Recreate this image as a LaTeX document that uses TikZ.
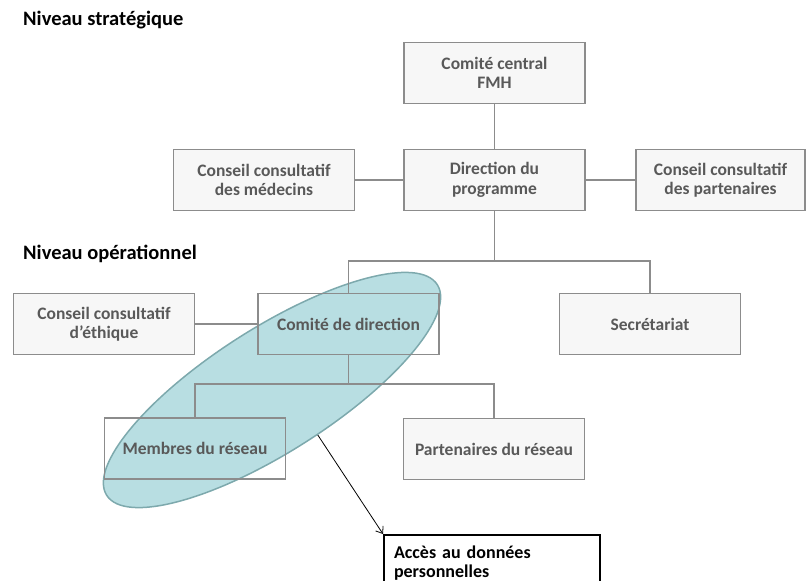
\documentclass[tikz,border=0pt]{standalone}
\usepackage{fontspec}
\setmainfont{Carlito}
\usetikzlibrary{shapes.geometric,arrows.meta}
\definecolor{boxgray}{HTML}{8C8C8C}
\definecolor{boxfill}{HTML}{F7F7F7}
\definecolor{txtgray}{HTML}{595959}
\definecolor{zonefill}{HTML}{B8DEE2}
\definecolor{zoneline}{HTML}{7DA9AD}
\tikzstyle{orgbox}=[draw=boxgray,fill=boxfill,line width=1.3pt,minimum width=181pt,minimum height=61pt,align=center,text=txtgray,font=\bfseries\fontsize{17.5}{19.5}\selectfont]
\tikzstyle{openbox}=[orgbox,fill=none]
\tikzstyle{link}=[draw=boxgray,line width=1.3pt]
\tikzstyle{level}=[anchor=base west,inner sep=0pt,font=\bfseries\fontsize{20.5}{24}\selectfont]

\begin{document}
\begin{tikzpicture}[x=1pt,y=-1pt]
	\useasboundingbox (0,0) rectangle (806,581);
	%zone of the network
	\node[ellipse,draw=zoneline,fill=zonefill,line width=1.5pt,minimum width=392pt,minimum height=124pt,inner sep=0pt,rotate=32.5] (zone) at (272,390) {};
	\node[level] (strat) at (23,25) {Niveau stratégique};
	\node[level] (oper) at (23,259) {Niveau opérationnel};
	%strategic level
	\node[orgbox] (cc) at (494.5,73) {Comité central\\FMH};
	\node[orgbox] (dp) at (494.5,180) {Direction du\\programme};
	\node[orgbox] (med) at (264,180) {Conseil consultatif\\des médecins};
	\node[orgbox,minimum width=169pt] (part) at (720.5,180) {Conseil consultatif\\des partenaires};
	%operational level
	\node[orgbox] (eth) at (104,324) {Conseil consultatif\\d’éthique};
	\node[openbox] (cd) at (348.5,324) {Comité de direction};
	\node[orgbox] (sec) at (650,324) {Secrétariat};
	\node[openbox] (mem) at (195,448.5) {Membres du réseau};
	\node[orgbox] (pres) at (494,449) {Partenaires du réseau};
	\node[draw=black,line width=2pt,anchor=north west,text width=196pt,align=left,inner xsep=10pt,inner ysep=11pt,font=\bfseries\fontsize{18}{18.5}\selectfont] (acc) at (383,534) {Accès au données\\personnelles};
	\coordinate (j1) at (494.5,261);
	\coordinate (j2) at (348.5,384);
	\draw[link] (cc) -- (dp);
	\draw[link] (med) -- (dp);
	\draw[link] (dp) -- (part);
	\draw[link] (dp.south) -- (j1) -| (cd.north);
	\draw[link] (j1) -| (sec.north);
	\draw[link] (eth) -- (cd);
	\draw[link] (cd.south) -- (j2) -| (mem.north);
	\draw[link] (j2) -| (pres.north);
	\draw[-{Straight Barb[length=6pt,width=9pt]},line width=0.8pt] (zone.-77) -- (acc.north west);
\end{tikzpicture}
\end{document}
